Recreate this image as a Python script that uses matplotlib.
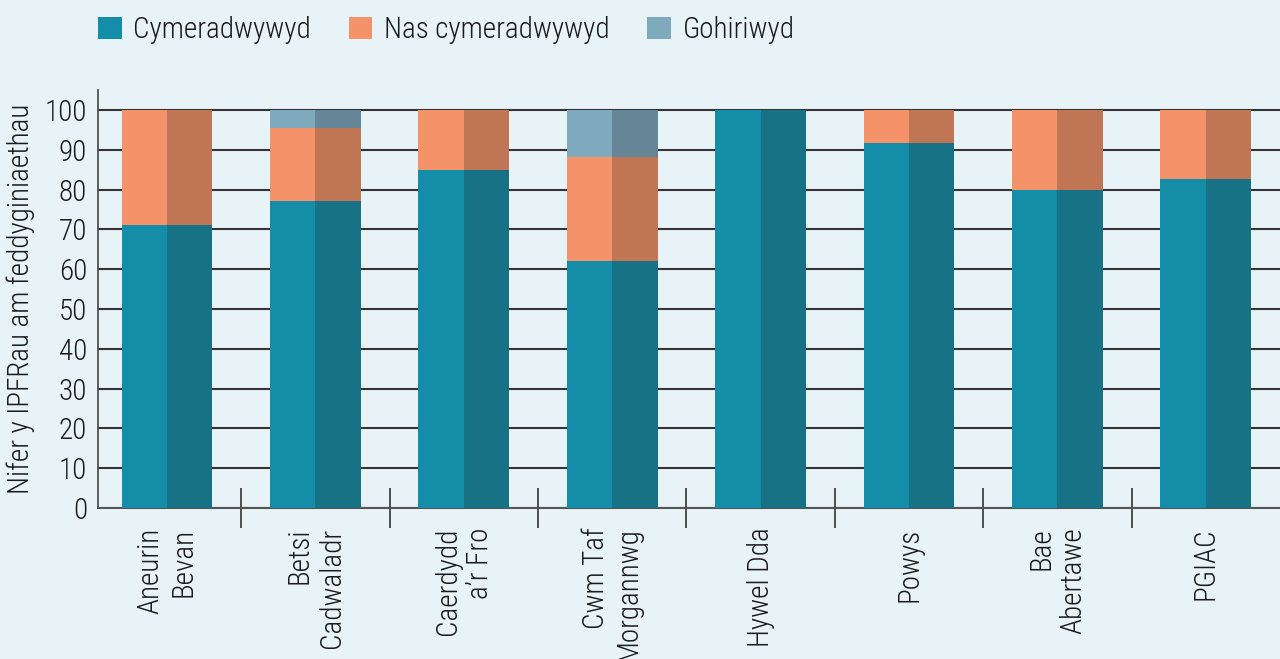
import matplotlib
matplotlib.use("Agg")
import matplotlib.pyplot as plt
from matplotlib.patches import Patch
from matplotlib import font_manager
import numpy as np

categories = ["Aneurin\nBevan", "Betsi\nCadwaladr", "Caerdydd\na\u2019r Fro", "Cwm Taf\nMorgannwg",
              "Hywel Dda", "Powys", "Bae\nAbertawe", "PGIAC"]
cymeradwywyd = [71, 77, 85, 62, 100, 91.7, 80, 82.6]
nas_cymeradwywyd = [29, 18.5, 15, 26.2, 0, 8.3, 20, 17.4]
gohiriwyd = [0, 4.5, 0, 11.8, 0, 0, 0, 0]
series_names = ["Cymeradwywyd", "Nas cymeradwywyd", "Gohiriwyd"]
light_colors = ["#148ea8", "#f4936a", "#7fa9bc"]
dark_colors = ["#187285", "#c07555", "#668596"]
ylabel = "Nifer y IPFRau am feddyginiaethau"

avail = {f.name for f in font_manager.fontManager.ttflist}
fam = None
for cand in ["Liberation Sans Narrow", "DejaVu Sans Condensed", "Roboto Condensed", "Open Sans Condensed"]:
    if cand in avail:
        fam = cand
        break
if fam is None:
    fam = "DejaVu Sans"
plt.rcParams['font.family'] = [fam, 'DejaVu Sans']
plt.rcParams['font.weight'] = 'light'
plt.rcParams['axes.labelweight'] = 'light'

bg = "#e8f3f8"
txt = "#1a1a1a"
fig = plt.figure(figsize=(12.8, 6.59), dpi=100, facecolor=bg)
ax = fig.add_axes([98/1280, (659-508)/659, 1 - 98/1280, (508-90)/659])
ax.set_facecolor(bg)

x = np.arange(len(categories))
w = 0.3065
series = [cymeradwywyd, nas_cymeradwywyd, gohiriwyd]
bottom = np.zeros(len(categories))
for vals, lc, dc in zip(series, light_colors, dark_colors):
    vals = np.array(vals, dtype=float)
    ax.bar(x - w/2, vals, w, bottom=bottom, color=lc, zorder=3, linewidth=0)
    ax.bar(x + w/2, vals, w, bottom=bottom, color=dc, zorder=3, linewidth=0)
    bottom += vals

ax.set_ylim(0, 105)
ax.set_xlim(-0.465, len(categories) - 0.5)
ax.set_yticks(np.arange(0, 101, 10))
ax.yaxis.grid(True, color="#333333", linewidth=1.5, zorder=1)
ax.set_axisbelow(True)
for s in ["top", "right"]:
    ax.spines[s].set_visible(False)
ax.spines["left"].set_color("#444444")
ax.spines["bottom"].set_color("#555555")
ax.spines["left"].set_linewidth(1.2)
ax.spines["bottom"].set_linewidth(1.5)
ax.tick_params(axis="y", length=0, labelsize=21, colors=txt, pad=8)

ax.set_xticks(x)
ax.set_xticklabels(categories, rotation=90, fontsize=21, ha="center", va="top",
                   multialignment="right")
ax.tick_params(axis="x", which="major", length=0, pad=14, colors=txt)
ax.set_xticks(np.arange(0.5, len(categories) - 0.5, 1), minor=True)
ax.tick_params(axis="x", which="minor", direction="inout", length=29, width=1.2, color="#333333")

ax.set_ylabel(ylabel, fontsize=21, color=txt, labelpad=7, fontweight="light")

handles = [Patch(facecolor=c, edgecolor="none") for c in light_colors]
fig.legend(handles, series_names, loc="upper left", bbox_to_anchor=(72/1280, 1.015), ncol=3,
           frameon=False, fontsize=21, handlelength=0.8, handleheight=0.8, handletextpad=0.4,
           columnspacing=1.3, labelcolor=txt)

fig.savefig("out.png", dpi=100, facecolor=bg)
